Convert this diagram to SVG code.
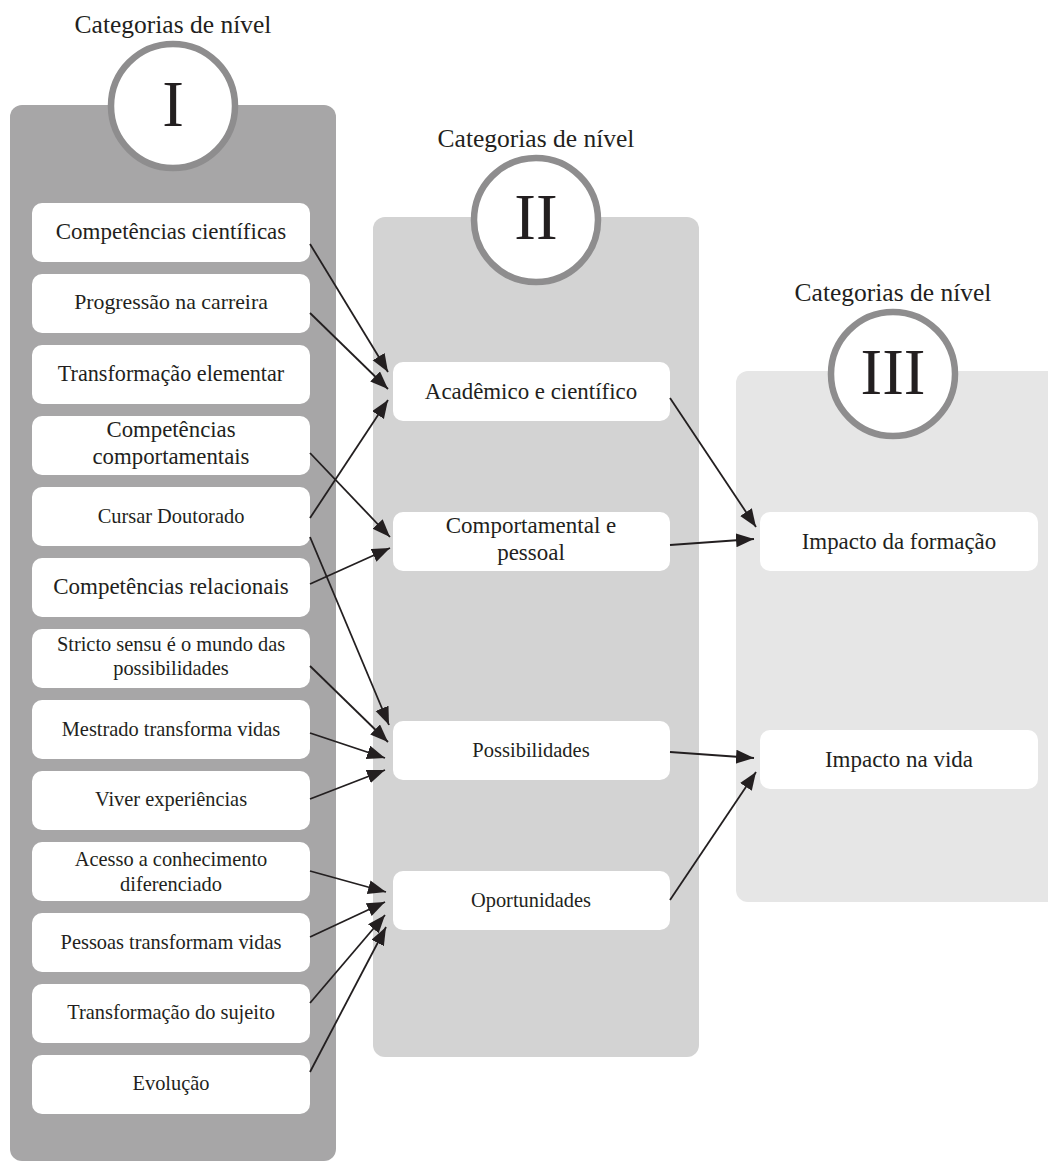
<svg xmlns="http://www.w3.org/2000/svg" width="1048" height="1162" viewBox="0 0 1048 1162">
<defs>
<style>
text{font-family:"Liberation Serif","Times New Roman",serif;fill:#231f20;text-anchor:middle}
.box{fill:#fff}
.ring{fill:#fff;stroke:#8e8d8e;stroke-width:6.5}
.lbl{font-size:25.5px}
.num{font-size:65px}
.conn line{stroke:#231f20;stroke-width:1.8;marker-end:url(#ah)}
</style>
<marker id="ah" markerUnits="userSpaceOnUse" markerWidth="20" markerHeight="16" refX="18" refY="7" orient="auto">
<path d="M0,0 L18,7 L0,14 z" fill="#231f20"/>
</marker>
</defs>

<!-- Panels -->
<g id="panel-I">
<rect x="10" y="105" width="326" height="1056" rx="12" fill="#a7a6a7"/>
<text class="lbl" x="173" y="33">Categorias de nível</text>
<circle class="ring" cx="173" cy="106" r="62"/>
<text class="num" x="173" y="126">I</text>
</g>
<g id="panel-II">
<rect x="373" y="217" width="326" height="840" rx="12" fill="#d3d3d3"/>
<text class="lbl" x="536" y="147">Categorias de nível</text>
<circle class="ring" cx="536" cy="220" r="62"/>
<text class="num" x="536" y="239">II</text>
</g>
<g id="panel-III">
<rect x="736" y="371" width="330" height="531" rx="12" fill="#e6e6e6"/>
<text class="lbl" x="893" y="301">Categorias de nível</text>
<circle class="ring" cx="893" cy="374" r="62"/>
<text class="num" x="893" y="394">III</text>
</g>

<!-- Level I nodes -->
<g id="n1"><rect class="box" x="32" y="203" width="278" height="59" rx="10"/><text x="171" y="239" font-size="23">Competências científicas</text></g>
<g id="n2"><rect class="box" x="32" y="274" width="278" height="59" rx="10"/><text x="171" y="309" font-size="21.8">Progressão na carreira</text></g>
<g id="n3"><rect class="box" x="32" y="345" width="278" height="59" rx="10"/><text x="171" y="381" font-size="22.2">Transformação elementar</text></g>
<g id="n4"><rect class="box" x="32" y="416" width="278" height="59" rx="10"/><text x="171" y="437" font-size="22.8">Competências</text><text x="171" y="464" font-size="22.8">comportamentais</text></g>
<g id="n5"><rect class="box" x="32" y="487" width="278" height="59" rx="10"/><text x="171" y="523" font-size="20.4">Cursar Doutorado</text></g>
<g id="n6"><rect class="box" x="32" y="558" width="278" height="59" rx="10"/><text x="171" y="594" font-size="23">Competências relacionais</text></g>
<g id="n7"><rect class="box" x="32" y="629" width="278" height="59" rx="10"/><text x="171" y="651" font-size="20.4">Stricto sensu é o mundo das</text><text x="171" y="675" font-size="20.4">possibilidades</text></g>
<g id="n8"><rect class="box" x="32" y="700" width="278" height="59" rx="10"/><text x="171" y="736" font-size="20.4">Mestrado transforma vidas</text></g>
<g id="n9"><rect class="box" x="32" y="771" width="278" height="59" rx="10"/><text x="171" y="806" font-size="20.4">Viver experiências</text></g>
<g id="n10"><rect class="box" x="32" y="842" width="278" height="59" rx="10"/><text x="171" y="866" font-size="20.4">Acesso a conhecimento</text><text x="171" y="891" font-size="20.4">diferenciado</text></g>
<g id="n11"><rect class="box" x="32" y="913" width="278" height="59" rx="10"/><text x="171" y="949" font-size="20.4">Pessoas transformam vidas</text></g>
<g id="n12"><rect class="box" x="32" y="984" width="278" height="59" rx="10"/><text x="171" y="1019" font-size="20.4">Transformação do sujeito</text></g>
<g id="n13"><rect class="box" x="32" y="1055" width="278" height="59" rx="10"/><text x="171" y="1090" font-size="20.4">Evolução</text></g>

<!-- Level II nodes -->
<g id="m1"><rect class="box" x="393" y="362" width="277" height="59" rx="10"/><text x="531" y="399" font-size="22.9">Acadêmico e científico</text></g>
<g id="m2"><rect class="box" x="393" y="512" width="277" height="59" rx="10"/><text x="531" y="533" font-size="23">Comportamental e</text><text x="531" y="560" font-size="23">pessoal</text></g>
<g id="m3"><rect class="box" x="393" y="721" width="277" height="59" rx="10"/><text x="531" y="757" font-size="20.5">Possibilidades</text></g>
<g id="m4"><rect class="box" x="393" y="871" width="277" height="59" rx="10"/><text x="531" y="907" font-size="20.4">Oportunidades</text></g>

<!-- Level III nodes -->
<g id="k1"><rect class="box" x="760" y="512" width="278" height="59" rx="10"/><text x="899" y="549" font-size="22.9">Impacto da formação</text></g>
<g id="k2"><rect class="box" x="760" y="730" width="278" height="59" rx="10"/><text x="899" y="767" font-size="23">Impacto na vida</text></g>

<!-- Connectors -->
<g id="connectors" class="conn">
<line x1="310" y1="244" x2="388" y2="372"/>
<line x1="310" y1="313" x2="388" y2="389"/>
<line x1="310" y1="518" x2="388" y2="400"/>
<line x1="310" y1="453" x2="390" y2="537"/>
<line x1="310" y1="584" x2="390" y2="548"/>
<line x1="310" y1="537" x2="389" y2="725"/>
<line x1="310" y1="666" x2="388" y2="742"/>
<line x1="310" y1="733" x2="385" y2="758"/>
<line x1="310" y1="799" x2="385" y2="770"/>
<line x1="310" y1="871" x2="386" y2="892"/>
<line x1="310" y1="937" x2="385" y2="902"/>
<line x1="310" y1="1003" x2="385" y2="915"/>
<line x1="310" y1="1072" x2="386" y2="927"/>
<line x1="670" y1="398" x2="756" y2="527"/>
<line x1="670" y1="545" x2="754" y2="539"/>
<line x1="670" y1="752" x2="754" y2="758"/>
<line x1="670" y1="900" x2="756" y2="772"/>
</g>
</svg>
